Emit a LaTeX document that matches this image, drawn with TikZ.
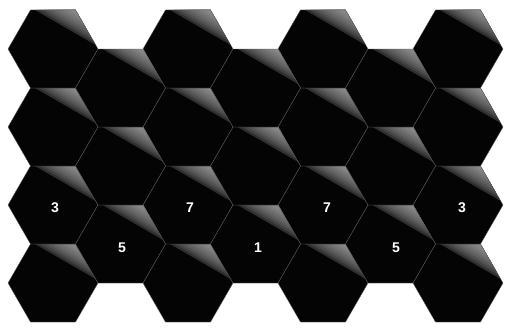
\documentclass[tikz,border=0pt]{standalone}
\usepackage{fontspec}
\setsansfont{Liberation Sans}
\usetikzlibrary{calc}
\definecolor{CellInk}{HTML}{040404}
\definecolor{CellSeam}{HTML}{5A5A5A}
\tikzset{
  cell/body/.style={fill=CellInk},
  cell/seam/.style={draw=CellSeam, line width=.3pt, line join=round},
  cell/label/.style={font=\sffamily\bfseries\large, text=white, inner sep=1pt}
}
% one hexagonal cell, centre (#1,#2), with its sheen in the upper right
\newcommand\hexcell[2]{%
  \begin{scope}[shift={(#1,#2)}]
    \fill[cell/body] (45,0) -- (22.5,39) -- (-22.5,39) -- (-45,0)
      -- (-22.5,-39) -- (22.5,-39) -- cycle;
    \foreach \sh [evaluate=\sh as \gv using {100-58*sqrt(\sh)}] in {0.1,0.2,...,0.9}
      \fill[black!\gv] ($(-22.5,39)!\sh!(22.5,39)$) -- (22.5,39)
        -- ($(45,0)!\sh!(22.5,39)$) -- cycle;
    \draw[cell/seam] (45,0) -- (22.5,39) -- (-22.5,39) -- (-45,0)
      -- (-22.5,-39) -- (22.5,-39) -- cycle;
  \end{scope}}

\begin{document}
\begin{tikzpicture}[x=0.03cm,y=0.03cm]
  \useasboundingbox (0,0) rectangle (510,327);
  % even columns, four cells each
  \foreach \cx in {53,188,323,458}
    \foreach \cy in {44,122,200,278}
      {\hexcell{\cx}{\cy}}
  % odd columns, three cells each
  \foreach \cx in {120.5,255.5,390.5}
    \foreach \cy in {83,161,239}
      {\hexcell{\cx}{\cy}}
  % numbers
  \node[cell/label] (leftthree) at (55,119) {3};
  \node[cell/label] (leftseven) at (190,119) {7};
  \node[cell/label] (rightseven) at (327,119) {7};
  \node[cell/label] (rightthree) at (462,119) {3};
  \node[cell/label] (leftfive) at (122,79) {5};
  \node[cell/label] (centreone) at (258,79) {1};
  \node[cell/label] (rightfive) at (396,79) {5};
\end{tikzpicture}
\end{document}
